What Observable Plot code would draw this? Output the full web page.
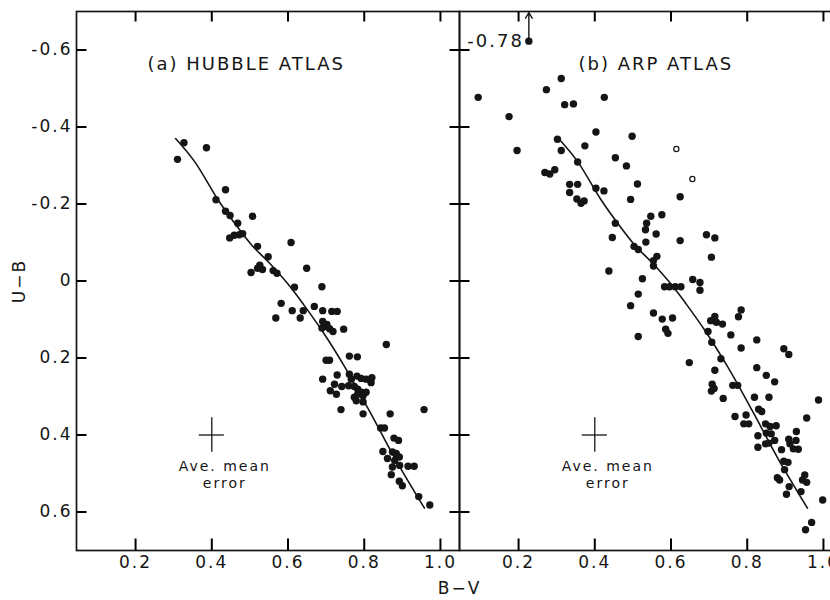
<!DOCTYPE html>
<html><head><meta charset="utf-8">
<script src="https://cdn.jsdelivr.net/npm/d3@7"></script>
<script src="https://cdn.jsdelivr.net/npm/@observablehq/plot@0.6"></script>
<style>
html,body{margin:0;padding:0;background:#fff;overflow:hidden;width:830px;height:600px}
#chart{width:842px;height:600px}
#chart svg{max-width:none !important}
#chart svg text{letter-spacing:2px}
</style></head><body><div id="chart"></div>
<script>
// Panels
const panels = ["a", "b"];
const panelTitles = ["(a) HUBBLE ATLAS", "(b) ARP ATLAS"];

// Axis ticks
const xTicks = [0.2, 0.4, 0.6, 0.8, 1.0];
const yTicks = [-0.6, -0.4, -0.2, 0, 0.2, 0.4, 0.6];
const xDomain = [0.045, 1.05];
const yDomain = [-0.7, 0.7];

// (a) Hubble Atlas galaxies: B-V, U-B
const hubbleBV = [0.310,0.327,0.386,0.436,0.411,0.436,0.448,0.507,0.468,0.447,0.459,0.472,0.481,0.520,0.608,0.548,0.526,0.503,0.520,0.533,0.561,0.571,0.649,0.617,0.689,
  0.582,0.568,0.611,0.632,0.640,0.669,0.691,0.715,0.729,0.691,0.702,0.696,0.709,0.689,0.718,0.746,0.858,0.761,0.782,0.700,0.709,0.691,0.729,0.722,0.741,0.711,0.727,
  0.761,0.766,0.759,0.781,0.792,0.805,0.820,0.818,0.774,0.783,0.792,0.783,0.774,0.797,0.805,0.779,0.797,0.739,0.797,0.957,0.843,0.853,0.868,0.878,0.890,0.849,0.861,
  0.874,0.884,0.892,0.880,0.874,0.893,0.915,0.931,0.871,0.892,0.900,0.943,0.972];
const hubbleUB = [-0.316,-0.359,-0.346,-0.237,-0.211,-0.181,-0.170,-0.168,-0.150,-0.112,-0.119,-0.120,-0.123,-0.090,-0.100,-0.063,-0.041,-0.022,-0.033,-0.030,-0.027,-0.020,-0.033,0.016,0.015,
  0.058,0.096,0.077,0.096,0.077,0.066,0.077,0.079,0.079,0.105,0.113,0.118,0.124,0.122,0.131,0.125,0.165,0.195,0.197,0.206,0.206,0.255,0.244,0.268,0.274,0.285,0.294,
  0.242,0.255,0.272,0.247,0.253,0.255,0.251,0.264,0.274,0.281,0.289,0.294,0.302,0.298,0.289,0.311,0.314,0.334,0.345,0.334,0.382,0.382,0.345,0.408,0.414,0.443,0.461,
  0.444,0.448,0.457,0.466,0.483,0.479,0.481,0.481,0.503,0.520,0.532,0.560,0.582];

// (b) Arp Atlas galaxies: B-V, U-B
const arpBV = [0.094,0.175,0.196,0.273,0.312,0.321,0.344,0.425,0.302,0.312,0.403,0.374,0.498,0.269,0.282,0.295,0.355,0.454,0.483,0.334,0.355,0.334,0.353,0.364,0.372,
  0.403,0.424,0.512,0.494,0.624,0.547,0.576,0.536,0.533,0.561,0.454,0.446,0.534,0.624,0.693,0.715,0.706,0.503,0.514,0.563,0.554,0.554,0.437,0.525,0.514,0.583,0.596,
  0.611,0.626,0.657,0.676,0.676,0.494,0.514,0.554,0.577,0.604,0.586,0.592,0.648,0.704,0.715,0.719,0.735,0.697,0.707,0.757,0.777,0.784,0.784,0.825,0.731,0.715,0.708,
  0.713,0.706,0.737,0.762,0.775,0.825,0.850,0.872,0.896,0.909,0.819,0.857,0.830,0.838,0.768,0.797,0.791,0.804,0.848,0.860,0.876,0.828,0.850,0.863,0.857,0.872,0.828,
  0.848,0.890,0.909,0.912,0.929,0.928,0.921,0.934,0.956,0.987,0.896,0.907,0.898,0.879,0.885,0.910,0.903,0.941,0.951,0.956,0.945,0.998,0.969,0.953];
const arpUB = [-0.477,-0.427,-0.339,-0.497,-0.526,-0.458,-0.460,-0.477,-0.368,-0.339,-0.387,-0.351,-0.376,-0.282,-0.278,-0.289,-0.309,-0.320,-0.299,-0.251,-0.251,-0.230,-0.213,-0.202,-0.208,
  -0.241,-0.234,-0.252,-0.212,-0.219,-0.168,-0.172,-0.150,-0.133,-0.122,-0.150,-0.113,-0.101,-0.105,-0.120,-0.112,-0.062,-0.090,-0.082,-0.064,-0.053,-0.039,-0.026,-0.006,0.034,0.015,0.015,
  0.015,0.015,-0.004,0.004,0.024,0.064,0.144,0.083,0.099,0.096,0.125,0.136,0.212,0.103,0.092,0.107,0.112,0.131,0.159,0.140,0.093,0.075,0.174,0.153,0.202,0.232,0.268,
  0.279,0.286,0.305,0.271,0.271,0.225,0.245,0.262,0.176,0.191,0.302,0.302,0.333,0.339,0.352,0.348,0.371,0.371,0.371,0.378,0.376,0.402,0.395,0.397,0.421,0.414,0.432,
  0.423,0.438,0.411,0.423,0.391,0.414,0.436,0.437,0.356,0.309,0.468,0.471,0.490,0.511,0.517,0.534,0.554,0.547,0.504,0.523,0.517,0.569,0.627,0.646];

// (b) open circles
const arpOpenBV = [0.614, 0.656];
const arpOpenUB = [-0.343, -0.265];

// (b) off-scale galaxy (true U-B = -0.78)
const offBV = [0.227];
const offUB = [-0.623];
const offLabel = ["-0.78"];

// Model curve (same in both panels)
const modelBV = [0.305, 0.355, 0.415, 0.46, 0.505, 0.55, 0.60, 0.64, 0.69, 0.75, 0.815, 0.88, 0.958];
const modelUB = [-0.37, -0.31, -0.213, -0.15, -0.093, -0.048, 0.008, 0.06, 0.13, 0.225, 0.34, 0.46, 0.59];

// Average mean error bar
const errBV = 0.40, errUB = 0.40, errDBV = 0.033, errDUB = 0.045;
const errLabel = "Ave. mean\nerror";

// ---- layout ----
const W = 842, H = 600, ML = 76, MT = 11, MB = 50;
const PW = (W - ML) / panels.length;   // panel width in px
const PH = H - MT - MB;                // panel height in px
// tick lengths (px) expressed in scale units
const tx = 10 * (xDomain[1] - xDomain[0]) / PW;
const tyB = 12 * (yDomain[1] - yDomain[0]) / PH;
const tyT = 10 * (yDomain[1] - yDomain[0]) / PH;

// ---- tables built from arrays ----
const pts = [
  ...hubbleBV.map((bv, i) => ({panel: panels[0], bv, ub: hubbleUB[i]})),
  ...arpBV.map((bv, i) => ({panel: panels[1], bv, ub: arpUB[i]}))
];
const openPts = arpOpenBV.map((bv, i) => ({panel: panels[1], bv, ub: arpOpenUB[i]}));
const offPts = offBV.map((bv, i) => ({panel: panels[1], bv, ub: offUB[i], label: offLabel[i]}));
const model = panels.flatMap(p => modelBV.map((bv, i) => ({panel: p, bv, ub: modelUB[i]})));
const errs = panels.map(p => ({panel: p, bv: errBV, ub: errUB, dbv: errDBV, dub: errDUB, label: errLabel}));
const yTickRows = panels.flatMap(p => yTicks.map(v => ({panel: p, v})));
const xTickRows = panels.flatMap(p => xTicks.map(v => ({panel: p, v})));

const fmtY = d => d === 0 ? "0" : d.toFixed(1);
const fmtX = d => d.toFixed(1);
const ink = "#151515";
const font = "'DejaVu Sans', Verdana, sans-serif";

const chart = Plot.plot({
  width: W, height: H,
  marginLeft: ML, marginRight: 0, marginTop: MT, marginBottom: MB,
  style: {fontFamily: font, fontSize: "17px", color: ink, background: "#fff", maxWidth: "none"},
  fx: {domain: panels, padding: 0, axis: null, label: null},
  x: {domain: xDomain, ticks: xTicks, tickFormat: fmtX, tickSize: 0, tickPadding: 5,
      label: "B\u2212V", labelAnchor: "center", labelOffset: 43, labelArrow: "none"},
  y: {domain: yDomain, reverse: true, ticks: yTicks, tickFormat: fmtY, tickSize: 0, tickPadding: 4,
      label: "U\u2212B", labelAnchor: "center", labelOffset: 64, labelArrow: "none"},
  marks: [
    Plot.frame({stroke: ink, strokeWidth: 1.7}),
    // model curve
    Plot.line(model, {x: "bv", y: "ub", fx: "panel", curve: "catmull-rom", stroke: ink, strokeWidth: 1.6}),
    // galaxies
    Plot.dot(pts, {x: "bv", y: "ub", fx: "panel", r: 3.7, fill: ink, stroke: "none"}),
    Plot.dot(openPts, {x: "bv", y: "ub", fx: "panel", r: 2.6, fill: "#fff", stroke: ink, strokeWidth: 1.2}),
    // off-scale point with arrow and true value
    Plot.dot(offPts, {x: "bv", y: "ub", fx: "panel", r: 3.7, fill: ink}),
    Plot.arrow(offPts, {x1: "bv", y1: "ub", x2: "bv", y2: () => yDomain[0], fx: "panel", stroke: ink, strokeWidth: 1.4, headLength: 7, insetStart: 3, insetEnd: 1}),
    Plot.text(offPts, {x: "bv", y: "ub", fx: "panel", text: "label", textAnchor: "end", dx: -5, fontSize: 18, fill: ink}),
    // average mean error crosses
    Plot.ruleY(errs, {y: "ub", x1: d => d.bv - d.dbv, x2: d => d.bv + d.dbv, fx: "panel", stroke: ink, strokeWidth: 1.3}),
    Plot.ruleX(errs, {x: "bv", y1: d => d.ub - d.dub, y2: d => d.ub + d.dub, fx: "panel", stroke: ink, strokeWidth: 1.3}),
    Plot.text(errs, {x: "bv", y: "ub", fx: "panel", text: "label", dx: 13, dy: 24, lineAnchor: "top", fontSize: 14, lineHeight: 1.2, fill: ink}),
    // panel titles
    Plot.text([panelTitles[0]], {fx: [panels[0]], frameAnchor: "top-left", dx: 71, dy: 46, textAnchor: "start", fontSize: 18, fill: ink}),
    Plot.text([panelTitles[1]], {fx: [panels[1]], frameAnchor: "top-left", dx: 119, dy: 46, textAnchor: "start", fontSize: 18, fill: ink}),
    // inward ticks on all four sides of each panel (drawn last, on top)
    Plot.link(yTickRows, {fx: "panel", y1: "v", y2: "v", x1: () => xDomain[0], x2: () => xDomain[0] + tx, stroke: "#000", strokeWidth: 2}),
    Plot.link(yTickRows, {fx: "panel", y1: "v", y2: "v", x1: () => xDomain[1] - tx, x2: () => xDomain[1], stroke: "#000", strokeWidth: 2}),
    Plot.link(xTickRows, {fx: "panel", x1: "v", x2: "v", y1: () => yDomain[1], y2: () => yDomain[1] - tyB, stroke: "#000", strokeWidth: 2}),
    Plot.link(xTickRows, {fx: "panel", x1: "v", x2: "v", y1: () => yDomain[0], y2: () => yDomain[0] + tyT, stroke: "#000", strokeWidth: 2})
  ]
});
document.getElementById("chart").append(chart);
</script></body></html>
